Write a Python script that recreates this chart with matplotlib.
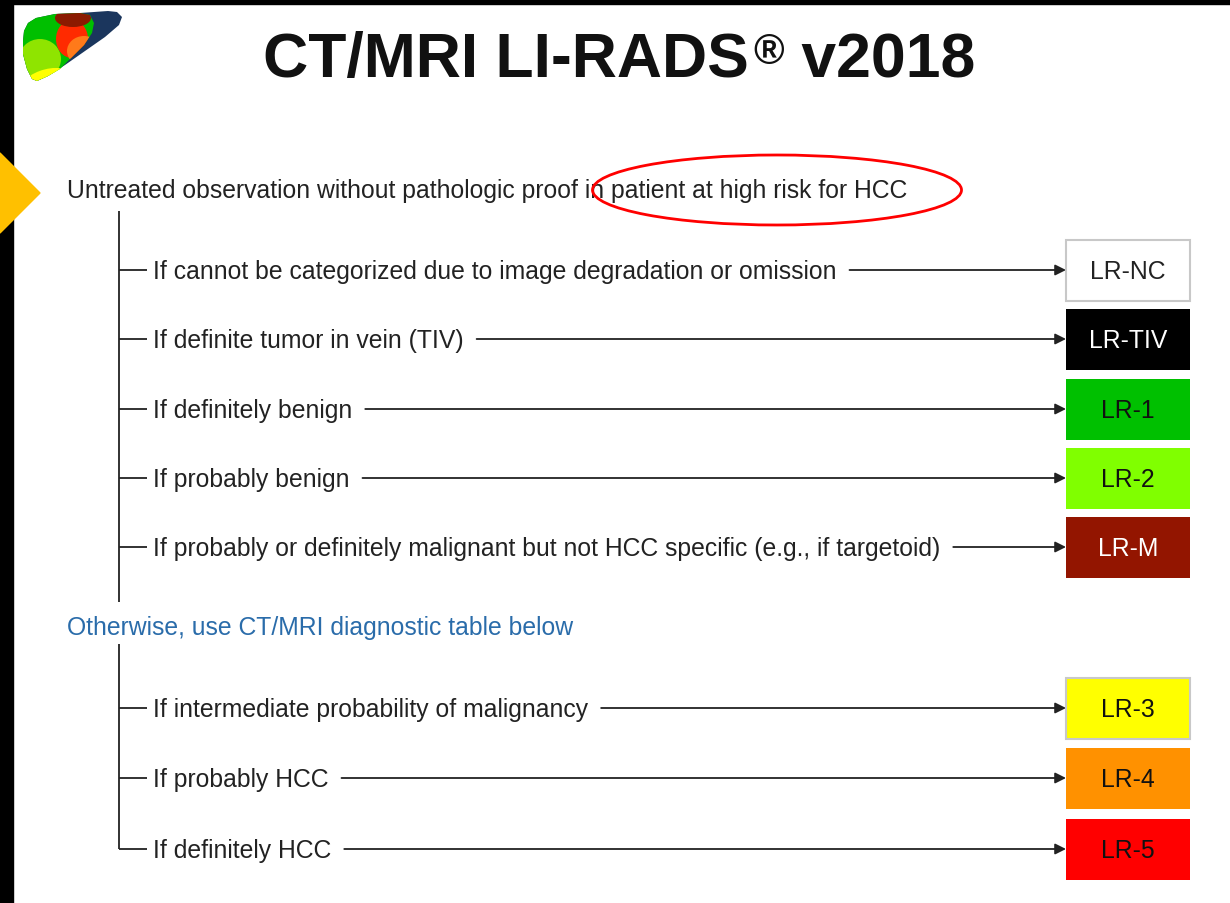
import matplotlib
matplotlib.use("Agg")
import matplotlib.pyplot as plt
from matplotlib.patches import Rectangle, Polygon, Ellipse

# ---------------- data ----------------
title_main = "CT/MRI LI-RADS"
title_mark = "®"
title_tail = " v2018"
heading_1 = "Untreated observation without pathologic proof in patient at high risk for HCC"
heading_2 = "Otherwise, use CT/MRI diagnostic table below"

group1_labels = [
    "If cannot be categorized due to image degradation or omission",
    "If definite tumor in vein (TIV)",
    "If definitely benign",
    "If probably benign",
    "If probably or definitely malignant but not HCC specific (e.g., if targetoid)",
]
group1_categories = ["LR-NC", "LR-TIV", "LR-1", "LR-2", "LR-M"]
group1_colors = ["#FFFFFF", "#000000", "#00C000", "#80FF00", "#931500"]
group1_text_colors = ["#222222", "#FFFFFF", "#111111", "#111111", "#FFFFFF"]

group2_labels = [
    "If intermediate probability of malignancy",
    "If probably HCC",
    "If definitely HCC",
]
group2_categories = ["LR-3", "LR-4", "LR-5"]
group2_colors = ["#FFFF00", "#FF9100", "#FF0000"]
group2_text_colors = ["#111111", "#111111", "#111111"]

# ---------------- layout ----------------
W, H = 1230, 904
fig = plt.figure(figsize=(W / 100, H / 100), dpi=100)
ax = fig.add_axes([0, 0, 1, 1])
ax.set_xlim(0, W)
ax.set_ylim(H, 0)
ax.axis("off")
renderer = fig.canvas.get_renderer()
inv = ax.transData.inverted()

FONT = "Liberation Sans"
BODY = 17.8
TXT = "#222222"

def text_right(t):
    bb = t.get_window_extent(renderer=renderer)
    return inv.transform((bb.x1, bb.y0))[0]

# frame
ax.add_patch(Rectangle((0, 0), W, 5, color="black", zorder=5))
ax.add_patch(Rectangle((0, 0), 13, H, color="black", zorder=5))
ax.add_patch(Polygon([(-40, 194), (0, 154), (40, 194), (0, 234)], closed=True,
                     color="#FFC000", zorder=6))

# logo (approximate liver shape)
outline = Polygon([(23, 42), (24, 32), (28, 24), (36, 19), (55, 15), (80, 14),
                   (108, 12), (117, 13), (122, 18), (119, 26), (105, 38), (85, 52),
                   (65, 66), (48, 77), (37, 82), (32, 80), (27, 70), (23, 55)],
                  closed=True, facecolor="#1B365D", edgecolor="none", zorder=2)
ax.add_patch(outline)
left_lobe = Polygon([(23, 42), (24, 32), (28, 24), (36, 19), (55, 15), (80, 14),
                     (90, 16), (94, 24), (92, 34), (84, 46), (72, 58), (60, 70),
                     (48, 77), (37, 82), (32, 80), (27, 70), (23, 55)],
                    closed=True, facecolor="#00BF00", edgecolor="none", zorder=3)
ax.add_patch(left_lobe)
for (cx, cy, w, h, ang, col) in [
    (40, 60, 42, 40, 0, "#8FE400"),
    (45, 86, 56, 30, -20, "#FFFF00"),
    (72, 40, 32, 38, 0, "#FF2A00"),
    (84, 52, 34, 30, 0, "#FF7A1A"),
    (73, 19, 36, 18, 0, "#8B1A00"),
]:
    e = Ellipse((cx, cy), w, h, angle=ang, facecolor=col, edgecolor="none", zorder=4)
    ax.add_patch(e)
    e.set_clip_path(left_lobe)

# title
t1 = ax.text(263, 77, title_main, fontsize=45, fontweight="bold", family=FONT,
             color="#111111", va="baseline", ha="left")
x1 = text_right(t1)
t2 = ax.text(x1 + 5, 64, title_mark, fontsize=30, fontweight="bold", family=FONT,
             color="#111111", va="baseline", ha="left")
x2 = text_right(t2)
ax.text(x2, 77, title_tail, fontsize=45, fontweight="bold", family=FONT,
        color="#111111", va="baseline", ha="left")

# headings
ax.text(67, 198, heading_1, fontsize=BODY, family=FONT, color=TXT, va="baseline")
ax.text(67, 635, heading_2, fontsize=BODY, family=FONT, color="#2A6CAA", va="baseline")
ax.add_patch(Ellipse((777, 191), 369, 70, fill=False, edgecolor="#FF0000", lw=2, zorder=7))

TRUNK_X = 119
BOX_X, BOX_W, BOX_H = 1066, 124, 61

def draw_group(labels, cats, colors, tcolors, rows, y_top, y_bottom):
    ax.plot([TRUNK_X, TRUNK_X], [y_top, y_bottom], color=TXT, lw=1.3,
            solid_capstyle="butt")
    for lab, cat, col, tc, y in zip(labels, cats, colors, tcolors, rows):
        ax.plot([TRUNK_X, 147], [y, y], color=TXT, lw=1.3, solid_capstyle="butt")
        t = ax.text(153, y + 8.5, lab, fontsize=BODY, family=FONT, color=TXT, va="baseline")
        xe = text_right(t)
        ax.annotate("", xy=(BOX_X, y), xytext=(xe + 13, y),
                    arrowprops=dict(arrowstyle="-|>", color=TXT, lw=1.3,
                                    mutation_scale=16, shrinkA=0, shrinkB=0))
        edge = "#C8C8C8" if col in ("#FFFFFF", "#FFFF00") else "none"
        ax.add_patch(Rectangle((BOX_X, y - BOX_H / 2), BOX_W, BOX_H, facecolor=col,
                               edgecolor=edge, lw=1.5, zorder=3))
        ax.text(BOX_X + BOX_W / 2, y + 8.5, cat, fontsize=BODY, family=FONT, color=tc,
                ha="center", va="baseline", zorder=4)

draw_group(group1_labels, group1_categories, group1_colors, group1_text_colors,
           [271, 340, 410, 479, 548], 212, 603)
draw_group(group2_labels, group2_categories, group2_colors, group2_text_colors,
           [709, 779, 850], 645, 850)

fig.savefig("out.png", dpi=100)
